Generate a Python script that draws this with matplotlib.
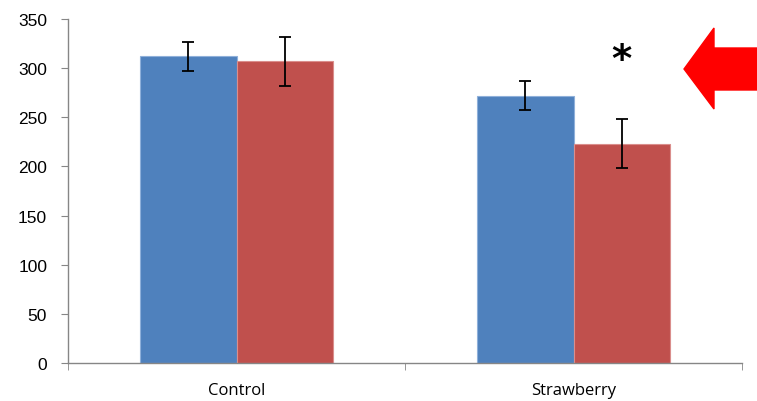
import matplotlib.pyplot as plt
from matplotlib.patches import Polygon
import numpy as np

# Data
categories = ["Control", "Strawberry"]
blue_vals = [312, 272]
blue_err = [15, 15]
red_vals = [307, 223]
red_err = [25, 25]
star_label = "*"

plt.rcParams['font.family'] = ['Liberation Sans', 'DejaVu Sans']

fig = plt.figure(figsize=(7.57, 4.02), dpi=100)
ax = fig.add_axes([68 / 757, 38 / 402, 674 / 757, 344 / 402])

x = np.arange(len(categories))
w = 0.286
err_kw = dict(ecolor="black", elinewidth=1.3, capsize=4.5, capthick=1.3)
ax.bar(x - w / 2, blue_vals, w, yerr=blue_err, color="#4F81BD",
       edgecolor="#8FB0DA", linewidth=0.8, error_kw=err_kw, zorder=2)
ax.bar(x + w / 2, red_vals, w, yerr=red_err, color="#C0504D",
       edgecolor="#DA8E8C", linewidth=0.8, error_kw=err_kw, zorder=2)

# significance marker above the strawberry red bar
ax.text(x[1] + w / 2, red_vals[1] + 85, star_label, ha="center", va="center",
        fontsize=28, fontweight="bold", family="DejaVu Sans")

ax.set_xlim(-0.5, 1.5)
ax.set_ylim(0, 350)
ax.set_yticks(range(0, 351, 50))
ax.set_xticks(x)
ax.set_xticklabels(categories, fontsize=12, family="Open Sans")
ax.tick_params(axis="x", length=0, pad=14)
ax.tick_params(axis="y", length=5, color="#868686", pad=10, labelsize=12.5)
# category divider ticks on the x-axis
ax.set_xticks([-0.5, 0.5, 1.5], minor=True)
ax.tick_params(axis="x", which="minor", length=5, color="#868686")

for s in ["top", "right"]:
    ax.spines[s].set_visible(False)
for s in ["left", "bottom"]:
    ax.spines[s].set_color("#868686")
    ax.spines[s].set_linewidth(1.0)

# red arrow on the right, in figure pixels
pts = [(684, 70), (714, 29), (714, 49), (757, 49), (757, 91), (714, 91), (714, 110)]
arrow = Polygon([(px / 757, 1 - py / 402) for px, py in pts], closed=True,
                transform=fig.transFigure, color="#FF0000", clip_on=False)
fig.patches.append(arrow)

fig.savefig("out.png", dpi=100)
